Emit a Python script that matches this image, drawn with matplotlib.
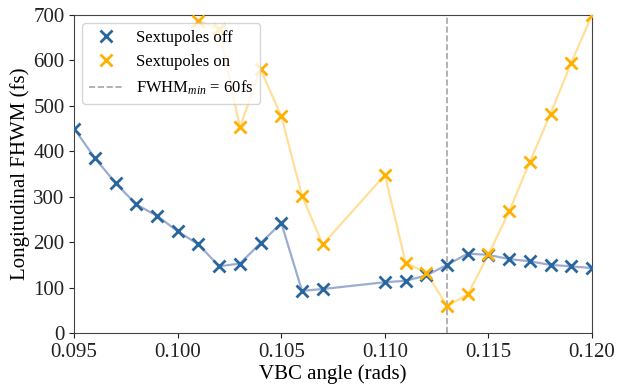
import matplotlib
matplotlib.use("Agg")
import matplotlib.pyplot as plt

plt.rcParams['font.family'] = ['Liberation Serif', 'DejaVu Serif']
plt.rcParams['mathtext.fontset'] = 'custom'
plt.rcParams['mathtext.rm'] = 'Liberation Serif'
plt.rcParams['mathtext.it'] = 'Liberation Serif:italic'

angle_off = [0.095, 0.096, 0.097, 0.098, 0.099, 0.100, 0.101, 0.102, 0.103, 0.104,
             0.105, 0.106, 0.107, 0.110, 0.111, 0.112, 0.113, 0.114, 0.115, 0.116,
             0.117, 0.118, 0.119, 0.120]
fwhm_off = [450, 385, 330, 283, 258, 224, 195, 147, 153, 198,
            242, 93, 97, 112, 115, 127, 150, 175, 172, 163,
            158, 150, 147, 143]

angle_on = [0.101, 0.102, 0.103, 0.104, 0.105, 0.106, 0.107, 0.110, 0.111, 0.112,
            0.113, 0.114, 0.115, 0.116, 0.117, 0.118, 0.119, 0.120]
fwhm_on = [687, 668, 453, 580, 477, 302, 195, 348, 155, 133,
           60, 85, 173, 268, 377, 483, 595, 700]

fwhm_min_angle = 0.113

fig = plt.figure(figsize=(6.18, 3.91), dpi=100)
ax = fig.add_axes([0.12, 0.148, 0.838, 0.814])

ax.plot(angle_off, fwhm_off, color='#3b5ba5', alpha=0.5, lw=1.6, zorder=2)
ax.plot(angle_on, fwhm_on, color='#ffb000', alpha=0.4, lw=1.6, zorder=2)
ax.plot(angle_off, fwhm_off, 'x', color='#2a669e', ms=9, mew=2, label='Sextupoles off', zorder=3)
ax.plot(angle_on, fwhm_on, 'x', color='#ffb000', ms=9, mew=2, label='Sextupoles on', zorder=3)
ax.axvline(fwhm_min_angle, color='grey', ls='--', alpha=0.7, lw=1.2,
           label=r'FWHM$_{min}$ = 60fs', zorder=1)

ax.set_xlim(0.095, 0.120)
ax.set_ylim(0, 700)
ax.set_xticks([0.095, 0.100, 0.105, 0.110, 0.115, 0.120])
ax.set_xticklabels(['0.095', '0.100', '0.105', '0.110', '0.115', '0.120'])
ax.set_yticks(range(0, 701, 100))
ax.tick_params(labelsize=15, colors='#222222')
ax.set_xlabel('VBC angle (rads)', fontsize=15, labelpad=2)
ax.set_ylabel('Longitudinal FHWM (fs)', fontsize=15, labelpad=2)
for s in ax.spines.values():
    s.set_color('#444444')

ax.legend(loc='upper left', fontsize=12, framealpha=0.8, borderaxespad=0.5)

fig.savefig('out.png', dpi=100)
